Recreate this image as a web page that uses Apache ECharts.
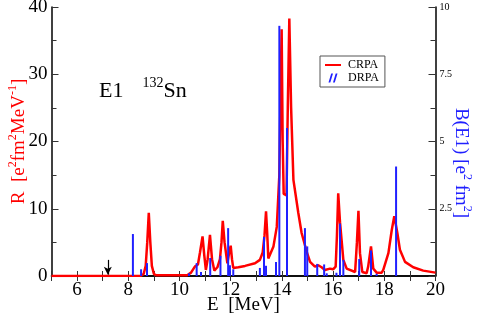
<!DOCTYPE html>
<html><head><meta charset="utf-8">
<script src="https://cdn.jsdelivr.net/npm/echarts@6/dist/echarts.min.js"></script>
<style>html,body{margin:0;padding:0;background:#fff}#c{width:479px;height:315px}</style>
</head><body><div id="c"></div>
<script>
// CRPA strength function R (e^2 fm^2 MeV^-1) vs E (MeV)
const crpaE = [5,8.5,8.6,8.68,8.74,8.8,8.86,8.92,9.0,9.1,10.3,10.45,10.6,10.72,10.8,10.9,10.97,11.03,11.1,11.19,11.27,11.36,11.48,11.58,11.64,11.69,11.76,11.87,11.94,12.0,12.05,12.1,12.3,12.56,12.95,13.14,13.25,13.32,13.38,13.43,13.47,13.67,13.8,13.9,13.96,13.99,14.03,14.07,14.18,14.23,14.29,14.36,14.45,14.64,14.77,14.97,15.1,15.29,15.42,15.55,15.68,15.88,16.0,16.1,16.15,16.2,16.27,16.33,16.4,16.53,16.86,16.93,16.99,17.05,17.14,17.31,17.37,17.48,17.57,17.7,17.9,17.96,18.16,18.29,18.39,18.51,18.61,18.81,19.13,19.52,20];
const crpaR = [0,0.05,0.3,1.5,5,9.4,5,1.5,0.3,0.1,0.1,0.5,1.4,1.7,3.5,5.9,3,0.9,2.5,6.1,2.5,0.8,1.3,2.5,5,8.2,5,1.9,3.5,4.5,2.5,1.2,1.3,1.5,1.9,2.4,3.5,6,9.6,6,2.6,4.4,7.3,15,30,36.7,20,12.2,12,25,38.3,25,14.3,9.4,6.4,3.6,2.1,1.4,1.6,1.3,0.9,1.1,1.0,1.4,6,12.3,8,5.4,2.4,1.1,0.6,5,9.7,3.4,0.6,0.4,1.4,4.4,1.1,0.5,0.5,0.9,3.4,6.8,8.9,6.4,3.9,2.1,1.3,0.8,0.5];
// DRPA discrete B(E1) (e^2 fm^2)
const drpaE = [8.18,8.5,8.73,10.37,10.67,10.84,11.2,11.6,11.9,11.97,12.1,13.14,13.3,13.38,13.77,13.9,14.2,14.9,14.99,15.38,15.65,15.75,16.13,16.27,16.4,17.02,17.48,17.7,18.46];
const drpaB = [1.56,0.25,0.48,0.1,0.48,0.15,0.67,0.75,1.78,0.4,0.25,0.3,1.45,0.38,0.52,9.3,5.5,1.78,1.1,0.45,0.43,0.1,0.12,1.95,0.6,0.63,0.95,0.08,4.07];
const xTicks = [6,8,10,12,14,16,18,20];
const leftTicks = [0,10,20,30,40];
const rightTicks = ['2.5','5','7.5','10'];

const SERIF = '"Liberation Serif","DejaVu Serif",serif';
const RED = '#ff0000', BLUE = '#2020ff';
const chart = echarts.init(document.getElementById('c'), null, {renderer:'canvas'});
chart.setOption({
  animation:false,
  backgroundColor:'#fff',
  grid:{left:51.5, right:43.5, top:7, bottom:39, containLabel:false, outerBoundsMode:'none'},
  legend:{
    orient:'vertical', left:320, top:56, itemGap:1, itemWidth:16, itemHeight:9,
    padding:[3,6,3,5], borderColor:'#555', borderWidth:1,
    textStyle:{fontFamily:SERIF, fontSize:12, color:'#000', padding:[0,0,0,2]},
    data:[
      {name:'CRPA', icon:'path://M0,4 L16,4 L16,6 L0,6 Z', itemStyle:{color:RED}},
      {name:'DRPA', icon:'path://M4,0 L6,0 L3,10 L1,10 Z M9,0 L11,0 L8,10 L6,10 Z', itemStyle:{color:BLUE}}
    ]
  },
  xAxis:[{
    type:'value', min:5, max:20, interval:1,
    axisLine:{lineStyle:{color:'#000', width:1.5}},
    axisTick:{inside:true, length:5, lineStyle:{color:'#333'}},
    splitLine:{show:false},
    axisLabel:{fontFamily:SERIF, fontSize:19, color:'#000', margin:5,
      formatter:v=> xTicks.indexOf(v)>=0 ? String(v) : ''},
    name:'E  [MeV]', nameLocation:'middle', nameGap:20, nameMoveOverlap:false,
    nameTextStyle:{fontFamily:SERIF, fontSize:19, color:'#000'}
  },{
    type:'value', position:'top', min:5, max:20, interval:1,
    axisLine:{show:true, lineStyle:{color:'#000', width:1.5}},
    axisTick:{inside:true, length:5, lineStyle:{color:'#333'}},
    axisLabel:{show:false}, splitLine:{show:false}
  }],
  yAxis:[{
    type:'value', min:0, max:40, interval:10,
    axisLine:{show:true, lineStyle:{color:'#000', width:1.5}},
    axisTick:{inside:true, length:7, lineStyle:{color:'#333'}},
    minorTick:{show:true, splitNumber:2, length:5, lineStyle:{color:'#333'}},
    splitLine:{show:false},
    axisLabel:{fontFamily:SERIF, fontSize:19, color:'#000', margin:4,
      formatter:v=> leftTicks.indexOf(v)>=0 ? String(v) : ''},
    name:'{m|R  [e}{s|2}{m|fm}{s|2}{m|MeV}{s|-1}{m|]}', nameLocation:'middle', nameGap:23, nameRotate:90, nameMoveOverlap:false,
    nameTextStyle:{color:RED, rich:{
      m:{fontFamily:SERIF, fontSize:19, color:RED, verticalAlign:'bottom', lineHeight:22},
      s:{fontFamily:SERIF, fontSize:12, color:RED, verticalAlign:'top', lineHeight:22}
    }}
  },{
    type:'value', min:0, max:10, interval:2.5, position:'right',
    axisLine:{show:true, lineStyle:{color:'#000', width:1.5}},
    axisTick:{inside:true, length:7, lineStyle:{color:'#333'}},
    minorTick:{show:true, splitNumber:2, length:5, lineStyle:{color:'#333'}},
    splitLine:{show:false},
    axisLabel:{fontFamily:SERIF, fontSize:10, color:'#000', margin:4,
      formatter:v=> rightTicks.indexOf(String(v))>=0 ? String(v) : ''}
  }],
  series:[{
    name:'CRPA', type:'line', xAxisIndex:0, yAxisIndex:0,
    data: crpaE.map((e,i)=>[e, crpaR[i]]),
    showSymbol:false, symbol:'none', smooth:false,
    lineStyle:{color:RED, width:2.5}, itemStyle:{color:RED}, z:3,
    markLine:{silent:true, symbol:['none','arrow'], symbolSize:[6,8],
      label:{show:false}, lineStyle:{color:'#000', width:1.2, type:'solid'},
      data:[[{coord:[7.2,2.4]},{coord:[7.2,0.2]}]]}
  },{
    name:'DRPA', type:'bar', xAxisIndex:0, yAxisIndex:1,
    data: drpaE.map((e,i)=>[e, drpaB[i]]),
    barWidth:2, barGap:'-100%', itemStyle:{color:BLUE}, z:4
  }],
  graphic:[{
    type:'text', left:99, top:76,
    style:{text:'{m|E1}{g| }{s|132}{m|Sn}', rich:{
      m:{fontFamily:SERIF, fontSize:22, fill:'#000', verticalAlign:'bottom', lineHeight:26},
      g:{fontFamily:SERIF, fontSize:22, width:19},
      s:{fontFamily:SERIF, fontSize:14, fill:'#000', verticalAlign:'top', lineHeight:26}
    }}
  },{
    type:'text', x:462, y:163, rotation:-Math.PI/2,
    style:{text:'{m|B(E1) [e}{s|2}{m| fm}{s|2}{m|]}', align:'center', verticalAlign:'middle', rich:{
      m:{fontFamily:SERIF, fontSize:19, fill:BLUE, verticalAlign:'bottom', lineHeight:22},
      s:{fontFamily:SERIF, fontSize:12, fill:BLUE, verticalAlign:'top', lineHeight:22}
    }}
  }]
});
</script></body></html>
